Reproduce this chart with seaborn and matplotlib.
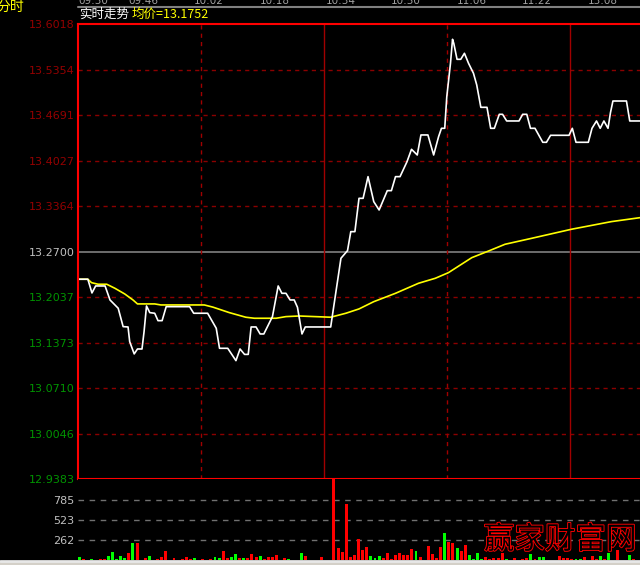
import numpy as np
import pandas as pd
import matplotlib
matplotlib.use("Agg")
import matplotlib.pyplot as plt
import matplotlib.patheffects as pe
from matplotlib.patches import Rectangle
import seaborn as sns

# --- données ---
# courbe de prix (minutes depuis 09:30, prix)
price_min = [0, 2.4, 3.4, 4.3, 6.6, 7.8, 9.8, 11.0, 12.2, 12.6, 13.7, 14.5, 15.6, 16.1, 16.7,
             17.5, 18.7, 19.5, 20.5, 21.5, 27.2, 28.2, 31.6, 33.7, 34.5, 36.5, 38.5, 39.5, 40.6,
             41.5, 42.2, 43.4, 44.4, 45.3, 47.4, 48.8, 49.7, 50.7, 51.7, 52.7, 53.5, 54.6, 55.4,
             61.6, 62.7, 64.1, 65.7, 66.5, 67.5, 68.5, 69.5, 70.7, 72.1, 73.4, 75.4, 76.4, 77.4,
             78.5, 80.2, 81.3, 82.7, 83.6, 85.3, 86.7, 87.9, 88.6, 89.4, 89.9, 90.8, 91.3, 91.6,
             92.4, 93.3, 94.2, 95.2, 96.4, 97.2, 98.2, 99.7, 100.6, 101.5, 102.7, 103.5, 104.5,
             107.5, 108.4, 109.4, 110.3, 111.4, 113.3, 114.2, 115.2, 119.7, 120.5, 121.4, 124.4,
             125.3, 126.4, 127.3, 128.2, 129.2, 129.8, 130.4, 133.7, 134.5, 137.0]
price = [13.2296, 13.2296, 13.2096, 13.2198, 13.2198, 13.1994, 13.1873, 13.1605, 13.1600, 13.1386,
         13.1207, 13.1279, 13.1279, 13.1530, 13.1906, 13.1809, 13.1800, 13.1692, 13.1692, 13.1896,
         13.1896, 13.1800, 13.1800, 13.1581, 13.1289, 13.1289, 13.1109, 13.1279, 13.1200, 13.1200,
         13.1600, 13.1600, 13.1498, 13.1498, 13.1751, 13.2198, 13.2091, 13.2091, 13.1994, 13.1994,
         13.1887, 13.1498, 13.1600, 13.1600, 13.2042, 13.2602, 13.2713, 13.2990, 13.2990, 13.3476,
         13.3476, 13.3792, 13.3427, 13.3306, 13.3588, 13.3588, 13.3792, 13.3792, 13.4010, 13.4191,
         13.4108, 13.4400, 13.4400, 13.4108, 13.4375, 13.4497, 13.4497, 13.4958, 13.5445, 13.5795,
         13.5737, 13.5503, 13.5503, 13.5591, 13.5445, 13.5300, 13.5129, 13.4803, 13.4803, 13.4497,
         13.4497, 13.4701, 13.4701, 13.4604, 13.4604, 13.4701, 13.4701, 13.4497, 13.4497, 13.4293,
         13.4293, 13.4395, 13.4395, 13.4497, 13.4293, 13.4293, 13.4497, 13.4604, 13.4497, 13.4604,
         13.4497, 13.4725, 13.4895, 13.4895, 13.4604, 13.4604]

# prix moyen (ligne jaune)
avg_min = [0, 2.4, 3.3, 4.9, 7, 9, 11.4, 13.4, 14.5, 18.7, 20.2, 30.8, 32.9, 36.9, 40.9, 43,
           48.3, 50.7, 53.9, 61.6, 65.3, 68.5, 72.1, 77.4, 83, 87.1, 90.3, 96, 100.1, 104.1,
           110.6, 120.3, 130, 137]
avg_price = [13.2296, 13.2296, 13.2246, 13.2223, 13.2223, 13.2164, 13.2081, 13.1994, 13.1936,
             13.1936, 13.1921, 13.1921, 13.1889, 13.1809, 13.1742, 13.1727, 13.1727, 13.1751,
             13.1760, 13.1742, 13.1800, 13.1863, 13.1969, 13.2091, 13.2237, 13.2310, 13.2392,
             13.2611, 13.2708, 13.2806, 13.2893, 13.3025, 13.3136, 13.3194]

# volumes par minute (R = hausse, G = baisse), 10 barres par ligne
vol_min = [0, 1, 3, 5, 6, 7, 8, 9, 10, 11,
           12, 13, 14, 16, 17, 19, 20, 21, 23, 25,
           26, 27, 28, 30, 32, 33, 34, 35, 36, 37,
           38, 39, 40, 41, 42, 43, 44, 45, 46, 47,
           48, 50, 51, 54, 55, 59, 62, 63, 64, 65,
           66, 67, 68, 69, 70, 71, 72, 73, 74, 75,
           76, 77, 78, 79, 80, 81, 82, 83, 85, 86,
           87, 88, 89, 90, 91, 92, 93, 94, 95, 96,
           97, 98, 99, 100, 101, 102, 103, 104, 106, 108,
           109, 110, 111, 112, 113, 117, 118, 119, 120, 121,
           122, 123, 125, 126, 127, 128, 129, 131, 134, 135]
vol = [39, 13, 13, 13, 13, 52, 105, 13, 52, 26,
       92, 223, 223, 26, 52, 13, 39, 118, 26, 13,
       39, 13, 26, 13, 13, 39, 26, 118, 26, 39,
       79, 26, 26, 26, 79, 39, 52, 13, 39, 39,
       66, 26, 13, 92, 52, 39, 1100, 157, 105, 734,
       35, 61, 275, 131, 170, 52, 26, 52, 26, 92,
       13, 66, 92, 66, 66, 144, 118, 39, 183, 79,
       26, 170, 354, 236, 223, 157, 118, 197, 66, 13,
       92, 13, 39, 13, 26, 26, 92, 13, 26, 13,
       26, 79, 13, 39, 39, 52, 26, 26, 13, 13,
       13, 39, 52, 13, 52, 13, 92, 131, 66, 13]
vol_dir = ['G', 'R', 'G', 'R', 'R', 'G', 'G', 'G', 'G', 'G',
           'R', 'G', 'R', 'R', 'G', 'R', 'R', 'R', 'R', 'R',
           'R', 'R', 'G', 'R', 'R', 'G', 'G', 'R', 'R', 'G',
           'G', 'R', 'G', 'R', 'R', 'R', 'G', 'R', 'R', 'R',
           'R', 'R', 'G', 'G', 'R', 'R', 'R', 'R', 'R', 'R',
           'R', 'R', 'R', 'R', 'R', 'G', 'G', 'G', 'R', 'R',
           'R', 'R', 'R', 'R', 'R', 'R', 'G', 'R', 'R', 'R',
           'R', 'R', 'G', 'R', 'R', 'G', 'R', 'R', 'G', 'G',
           'G', 'G', 'R', 'R', 'R', 'R', 'R', 'G', 'R', 'R',
           'R', 'G', 'R', 'G', 'G', 'R', 'R', 'R', 'R', 'G',
           'G', 'R', 'R', 'R', 'G', 'R', 'G', 'R', 'G', 'R']

y_ticks = [13.6018, 13.5354, 13.4691, 13.4027, 13.3364, 13.2700, 13.2037, 13.1373, 13.0710,
           13.0046, 12.9383]
vol_ticks = [262, 523, 785]
time_pos = [0, 16, 32, 48, 64, 80, 96, 112, 128]
time_labels = ["09:30", "09:46", "10:02", "10:18", "10:34", "10:50", "11:06", "11:22", "13:08"]

sns.set_theme(style="white")
plt.rcParams['font.family'] = ['DejaVu Sans', 'Noto Sans CJK SC']
cjk = ['Noto Sans CJK SC', 'DejaVu Sans']

W, H = 640, 565
fig = plt.figure(figsize=(W / 100, H / 100), dpi=100, facecolor='black')

# panneau principal
ax = fig.add_axes([78 / W, 86 / H, 562 / W, 455 / H], facecolor='black')
ax.set_xlim(0, 137)
ax.set_ylim(12.9383, 13.6018)
for s in ['left', 'top', 'bottom']:
    ax.spines[s].set_color('#ff0000')
    ax.spines[s].set_linewidth(1.5)
ax.spines['right'].set_visible(False)

for lv in y_ticks[1:-1]:
    if abs(lv - 13.27) < 1e-6:
        ax.axhline(lv, color='#808080', lw=1.2, zorder=1)
    else:
        ax.axhline(lv, color='#8b0000', lw=1, ls=(0, (3, 3)), zorder=1)
for vx, st in [(30, 'd'), (60, 's'), (90, 'd'), (120, 's')]:
    ax.axvline(vx, color='#a00000', lw=1, ls=(0, (3, 3)) if st == 'd' else '-', zorder=1)

ax.set_xticks([])
ax.set_yticks(y_ticks)
ax.set_yticklabels([f"{v:.4f}" for v in y_ticks], fontsize=8)
ax.tick_params(axis='y', length=0, pad=2.5)
for lab, v in zip(ax.get_yticklabels(), y_ticks):
    if v > 13.2701:
        lab.set_color('#940000')
    elif v < 13.2699:
        lab.set_color('#009400')
    else:
        lab.set_color('#c0c0c0')

df_p = pd.DataFrame({'m': price_min, 'p': price})
df_a = pd.DataFrame({'m': avg_min, 'p': avg_price})
sns.lineplot(data=df_a, x='m', y='p', color='#ffff00', lw=1.2, ax=ax, sort=False, estimator=None)
sns.lineplot(data=df_p, x='m', y='p', color='white', lw=1.2, ax=ax, sort=False, estimator=None)
ax.set_xlabel('')
ax.set_ylabel('')

# panneau volumes
vax = fig.add_axes([78 / W, 5 / H, 562 / W, 81 / H], facecolor='black')
for s in vax.spines.values():
    s.set_visible(False)
for lv in vol_ticks:
    vax.axhline(lv, color='#707070', lw=1, ls=(0, (4, 4)), zorder=0)
df_v = pd.DataFrame({'m': [m + 0.4 for m in vol_min], 'v': vol, 'd': vol_dir})
sns.barplot(data=df_v, x='m', y='v', hue='d', native_scale=True, dodge=False,
            palette={'R': '#ff0000', 'G': '#00ff00'}, width=0.72, ax=vax, legend=False,
            saturation=1, linewidth=0, zorder=2)
vax.set_xlim(0, 137)
vax.set_ylim(0, 1065)
vax.set_xticks([])
vax.set_yticks(vol_ticks)
vax.set_yticklabels([str(v) for v in vol_ticks], fontsize=8, color='#c0c0c0')
vax.tick_params(axis='y', length=0, pad=2.5)
vax.set_xlabel('')
vax.set_ylabel('')

# bandeau du haut (heures coupées par le bord comme sur la capture)
fig.add_artist(plt.Line2D([78 / W, 1], [1 - 6.5 / H, 1 - 6.5 / H], color='#808080', lw=1.5))
for tp, tl in zip(time_pos, time_labels):
    xf = (78 + tp * 4.1) / W
    fig.text(xf if tp else 78 / W, 1 - 1.5 / H, tl, color='#a0a0a0', fontsize=7.5,
             ha='center' if tp else 'left', va='center')
fig.text(-4 / W, 1 - 7 / H, "分时", color='#ffff00', fontsize=10, family=cjk, va='center')
fig.text(79 / W, 1 - 14.5 / H, "实时走势", color='white', fontsize=9, family=cjk, va='center')
fig.text(132 / W, 1 - 14.5 / H, "均价=13.1752", color='#ffff00', fontsize=9, family=cjk,
         va='center')

# bas de fenêtre
fig.add_artist(Rectangle((0, 0), 1, 3 / H, color='#d4d0c8', transform=fig.transFigure))
fig.add_artist(plt.Line2D([0, 1], [4.5 / H, 4.5 / H], color='#e8e8e8', lw=2))

# filigrane (contour rouge)
fig.text(560 / W, 1 - 540 / H, "赢家财富网", color='black', fontsize=22, family=cjk,
         ha='center', va='center', fontweight='light', zorder=5,
         path_effects=[pe.Stroke(linewidth=1.3, foreground='#ff0000'), pe.Normal()])

fig.savefig("out.png", dpi=100, facecolor='black')
